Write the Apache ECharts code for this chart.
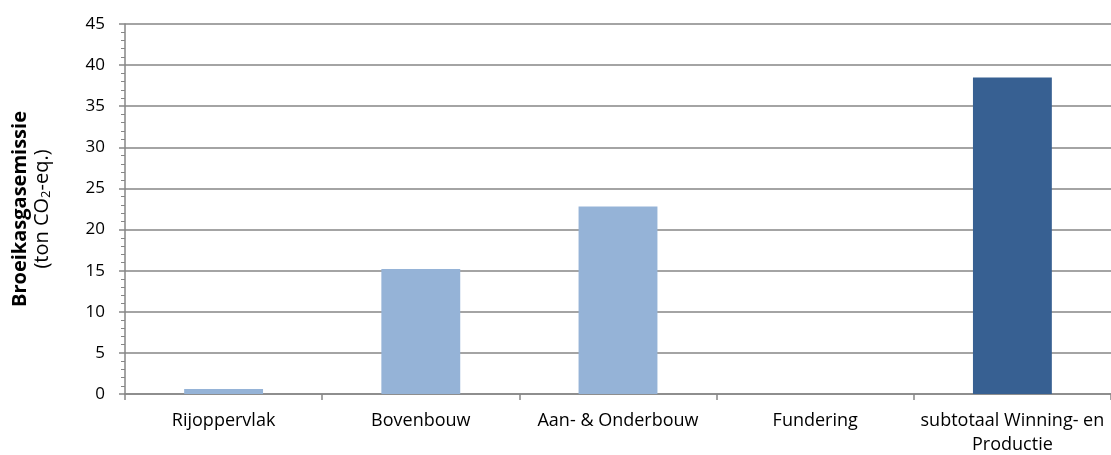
<!DOCTYPE html>
<html>
<head>
<meta charset="utf-8">
<script src="https://cdn.jsdelivr.net/npm/echarts@6/dist/echarts.min.js"></script>
<style>
  html, body { margin: 0; padding: 0; background: #fff; }
  #main { width: 1111px; height: 455px; }
</style>
</head>
<body>
<div id="main"></div>
<script>
// categories and values
const categories = ["Rijoppervlak", "Bovenbouw", "Aan- & Onderbouw", "Fundering", "subtotaal Winning- en\nProductie"];
const values = [0.6, 15.2, 22.8, 0, 38.5];
const barColors = ["#95B3D7", "#95B3D7", "#95B3D7", "#95B3D7", "#376092"];

const font = "Open Sans";
let myChart = echarts.init(document.getElementById("main"));

let option = {
  animation: false,
  grid: { left: 125, right: 0, top: 24, bottom: 61, outerBoundsMode: "none" },
  xAxis: {
    type: "category",
    data: categories,
    axisLine: { lineStyle: { color: "#868686", width: 1.5 } },
    axisTick: { show: true, length: 6, lineStyle: { color: "#868686", width: 1.5 } },
    axisLabel: { interval: 0, color: "#000", fontFamily: font, fontSize: 18, margin: 15, lineHeight: 24 }
  },
  yAxis: {
    type: "value",
    min: 0,
    max: 45,
    interval: 5,
    name: "{b|Broeikasgasemissie}\n{n|(ton CO}{s|2}{n|-eq.)}",
    nameLocation: "middle",
    nameRotate: 90,
    nameGap: 72,
    nameTextStyle: {
      rich: {
        b: { fontFamily: font, fontSize: 20, fontWeight: "bold", color: "#000", lineHeight: 22 },
        n: { fontFamily: font, fontSize: 20, color: "#000", lineHeight: 22 },
        s: { fontFamily: font, fontSize: 13, color: "#000", lineHeight: 22, padding: [9, 0, 0, 0] }
      }
    },
    axisLine: { show: true, lineStyle: { color: "#868686", width: 1.5 } },
    axisTick: { show: true, length: 6, lineStyle: { color: "#868686", width: 1.5 } },
    minorTick: { show: true, splitNumber: 5, length: 4, lineStyle: { color: "#868686", width: 1 } },
    splitLine: { lineStyle: { color: "#868686", width: 1.5 } },
    axisLabel: { color: "#000", fontFamily: font, fontSize: 17, margin: 20 }
  },
  series: [{
    type: "bar",
    data: values.map((v, i) => ({ value: v, itemStyle: { color: barColors[i] } })),
    barWidth: "40%"
  }]
};

myChart.setOption(option);
</script>
</body>
</html>
